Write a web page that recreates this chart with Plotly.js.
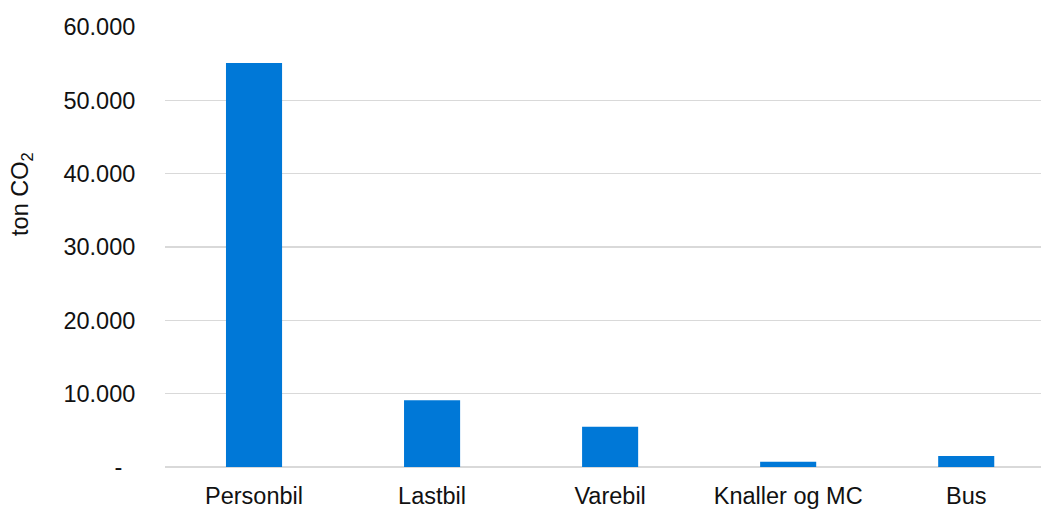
<!DOCTYPE html>
<html>
<head>
<meta charset="utf-8">
<script src="https://cdn.plot.ly/plotly-3.0.1.min.js"></script>
<style>html,body{margin:0;padding:0;background:#fff;overflow:hidden}</style>
</head>
<body>
<div id="chart" style="width:1041px;height:509px"></div>
<script>
const categories = ["Personbil", "Lastbil", "Varebil", "Knaller og MC", "Bus"];
const emissions = [55100, 9100, 5500, 700, 1500];
const yTickVals = [0, 10000, 20000, 30000, 40000, 50000, 60000];
const yTickText = ["-\u00a0\u00a0", "10.000", "20.000", "30.000", "40.000", "50.000", "60.000"];
const yTitle = "ton CO<sub>2</sub>";

const font = {family: "Liberation Sans, Arial, sans-serif", size: 23.5, color: "#111"};

Plotly.newPlot("chart", [{
  type: "bar",
  x: categories,
  y: emissions,
  width: 0.315,
  marker: {color: "#0078D7"},
  hoverinfo: "x+y"
}], {
  width: 1041, height: 509,
  margin: {l: 165, r: 0, t: 27, b: 42, pad: 0},
  paper_bgcolor: "#fff", plot_bgcolor: "#fff",
  font: font,
  showlegend: false,
  xaxis: {
    type: "category",
    range: [-0.5, 4.42],
    showgrid: false, zeroline: false, showline: false,
    ticks: "outside", ticklen: 8, tickcolor: "rgba(0,0,0,0)",
    tickfont: font, fixedrange: true
  },
  yaxis: {
    range: [0, 60000],
    tickvals: yTickVals, ticktext: yTickText,
    showgrid: true, gridcolor: "#D9D9D9", gridwidth: 1.6,
    zeroline: true, zerolinecolor: "#D9D9D9", zerolinewidth: 1.6,
    showline: false,
    ticks: "outside", ticklen: 24, tickcolor: "rgba(0,0,0,0)",
    tickfont: font, fixedrange: true
  },
  annotations: [{
    text: yTitle, textangle: -90,
    xref: "paper", yref: "paper",
    x: -0.163, y: 0.621, xanchor: "center", yanchor: "middle",
    showarrow: false, font: font
  }]
}, {displayModeBar: false, staticPlot: true});
</script>
</body>
</html>
